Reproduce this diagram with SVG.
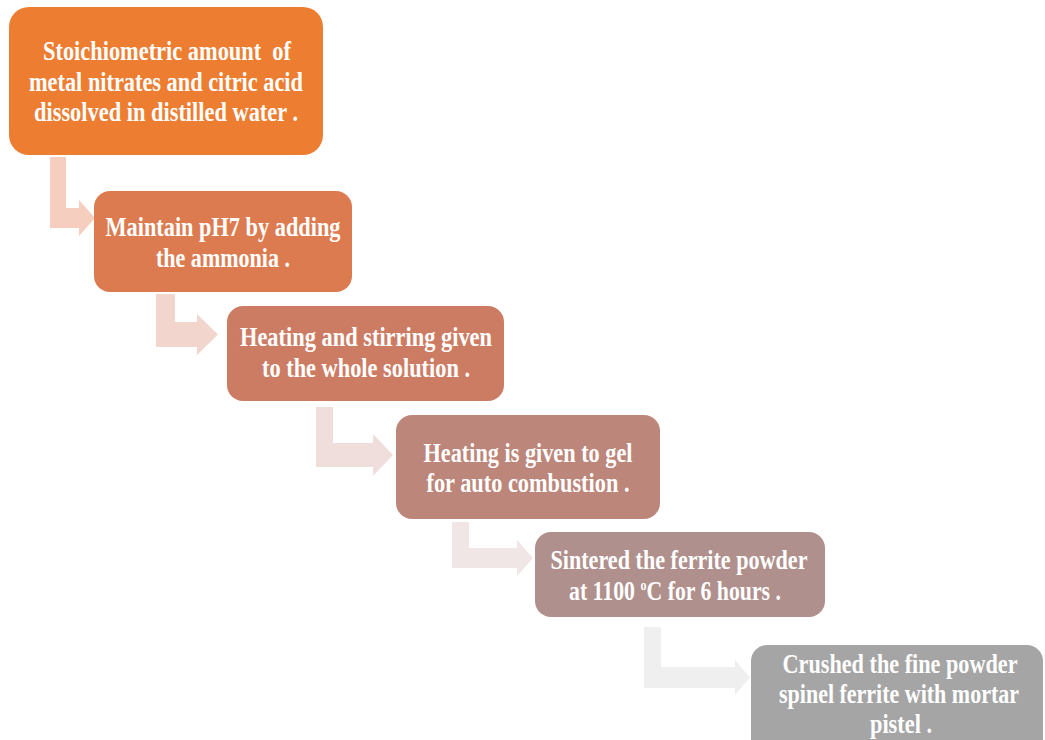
<svg xmlns="http://www.w3.org/2000/svg" width="1045" height="740" viewBox="0 0 1045 740">
  <style>
    .lbl { font-family: "Liberation Serif", "Times New Roman", serif; font-weight: bold; font-size: 27px; fill: #ffffff; text-anchor: middle; }
  </style>
  <rect width="1045" height="740" fill="#ffffff"/>

  <!-- bent arrows between the steps -->
  <g id="connectors">
    <path d="M50,157 H66 V208 H79 V200 L95,218 L79,236 V228 H50 Z" fill="#F6CEBF"/>
    <path d="M156,294 H175 V322 H197 V314 L218,334.5 L197,355 V347 H156 Z" fill="#F2D6CE"/>
    <path d="M316,407 H333 V443 H373 V434 L393,455 L373,476 V467 H316 Z" fill="#F0DEDC"/>
    <path d="M452,522 H469 V548 H517 V540 L533,558 L517,576 V568 H452 Z" fill="#EFE6E5"/>
    <path d="M644,627 H661 V667 H735 V660 L750,677.5 L735,695 V688 H644 Z" fill="#EFEFEF"/>
  </g>

  <g id="step1">
    <rect x="9" y="7" width="314" height="148" rx="20" fill="#ED7D31"/>
    <text class="lbl" x="167" y="60" textLength="248" lengthAdjust="spacingAndGlyphs" xml:space="preserve">Stoichiometric amount  of</text>
    <text class="lbl" x="166" y="91" textLength="274" lengthAdjust="spacingAndGlyphs">metal nitrates and citric acid</text>
    <text class="lbl" x="166" y="121" textLength="264" lengthAdjust="spacingAndGlyphs">dissolved in distilled water .</text>
  </g>

  <g id="step2">
    <rect x="94" y="191" width="258" height="101" rx="16" fill="#DD7B50"/>
    <text class="lbl" x="223" y="236" textLength="235" lengthAdjust="spacingAndGlyphs">Maintain pH7 by adding</text>
    <text class="lbl" x="223" y="267" textLength="134" lengthAdjust="spacingAndGlyphs">the ammonia .</text>
  </g>

  <g id="step3">
    <rect x="227" y="306" width="277" height="95" rx="16" fill="#CD7C64"/>
    <text class="lbl" x="366" y="346" textLength="252" lengthAdjust="spacingAndGlyphs">Heating and stirring given</text>
    <text class="lbl" x="366" y="377" textLength="208" lengthAdjust="spacingAndGlyphs">to the whole solution .</text>
  </g>

  <g id="step4">
    <rect x="396" y="415" width="264" height="104" rx="16" fill="#BC867A"/>
    <text class="lbl" x="528" y="462" textLength="209" lengthAdjust="spacingAndGlyphs">Heating is given to gel</text>
    <text class="lbl" x="528" y="492" textLength="203" lengthAdjust="spacingAndGlyphs">for auto combustion .</text>
  </g>

  <g id="step5">
    <rect x="535" y="532" width="290" height="85" rx="16" fill="#B0908D"/>
    <text class="lbl" x="679" y="569" textLength="257" lengthAdjust="spacingAndGlyphs">Sintered the ferrite powder</text>
    <text class="lbl" x="675" y="600" textLength="212" lengthAdjust="spacingAndGlyphs">at 1100 <tspan font-size="15" baseline-shift="10">o</tspan>C for 6 hours .</text>
  </g>

  <g id="step6">
    <rect x="751" y="645" width="292" height="110" rx="16" fill="#A5A5A5"/>
    <text class="lbl" x="900" y="673" textLength="235" lengthAdjust="spacingAndGlyphs">Crushed the fine powder</text>
    <text class="lbl" x="899" y="703" textLength="240" lengthAdjust="spacingAndGlyphs">spinel ferrite with mortar</text>
    <text class="lbl" x="901" y="733" textLength="62" lengthAdjust="spacingAndGlyphs">pistel .</text>
  </g>
</svg>
